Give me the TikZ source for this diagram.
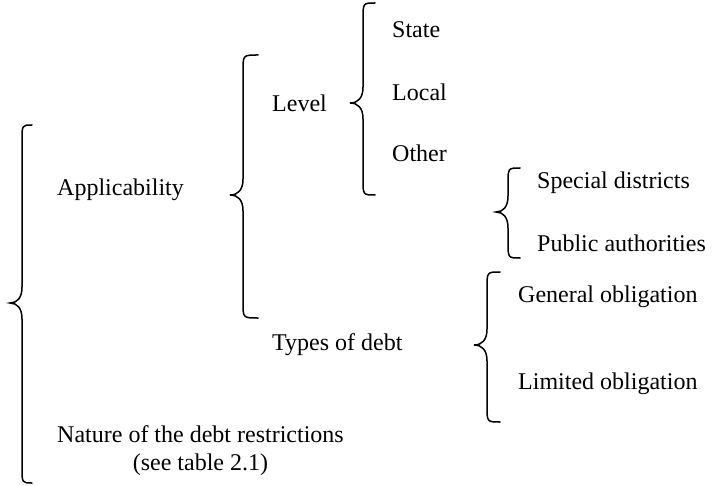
\documentclass[tikz,border=0pt]{standalone}
\usepackage{fontspec}
\setmainfont{Liberation Serif}
\usepackage{tikz}
\usetikzlibrary{positioning}

% left curly brace: end x, stem x, tip x, top y, tip y, bottom y
\newcommand{\leftbrace}[6]{%
  \draw[brace line] (#1,#4) .. controls (#2,#4) .. (#2,#4+16)
    -- (#2,#5-16) .. controls (#2,#5-5) and (#2-5,#5) .. (#3,#5)
    .. controls (#2-5,#5) and (#2,#5+5) .. (#2,#5+16)
    -- (#2,#6-16) .. controls (#2,#6) .. (#1,#6);}

\begin{document}
\begin{tikzpicture}[x=1pt,y=-1pt,
  brace line/.style={line width=1.5pt,line cap=round},
  item/.style={anchor=west,inner sep=0pt,font=\fontsize{24}{28}\selectfont}]
  \useasboundingbox (0,0) rectangle (727,486);
  % first level
  \node[item] (appl) at (57,190) {Applicability};
  \node[item,align=center] (nature) at (57,451) {Nature of the debt restrictions\\(see table 2.1)};
  \leftbrace{32}{22}{10}{125}{303}{483}
  % applicability
  \node[item] (level) at (272,103) {Level};
  \node[item] (types) at (272,345) {Types of debt};
  \leftbrace{258}{243}{230}{55}{195}{318}
  % level
  \node[item] (state) at (392,30) {State};
  \node[item] (local) at (392,92) {Local};
  \node[item] (other) at (392,153) {Other};
  \leftbrace{375}{363}{350}{3}{103}{195}
  % other
  \node[item] (special) at (537,183) {Special districts};
  \node[item] (public) at (537,243) {Public authorities};
  \leftbrace{520}{508}{496}{168}{212}{258}
  % types of debt
  \node[item] (general) at (518,297) {General obligation};
  \node[item] (limited) at (518,384) {Limited obligation};
  \leftbrace{500}{487}{474}{272}{345}{422}
\end{tikzpicture}
\end{document}
